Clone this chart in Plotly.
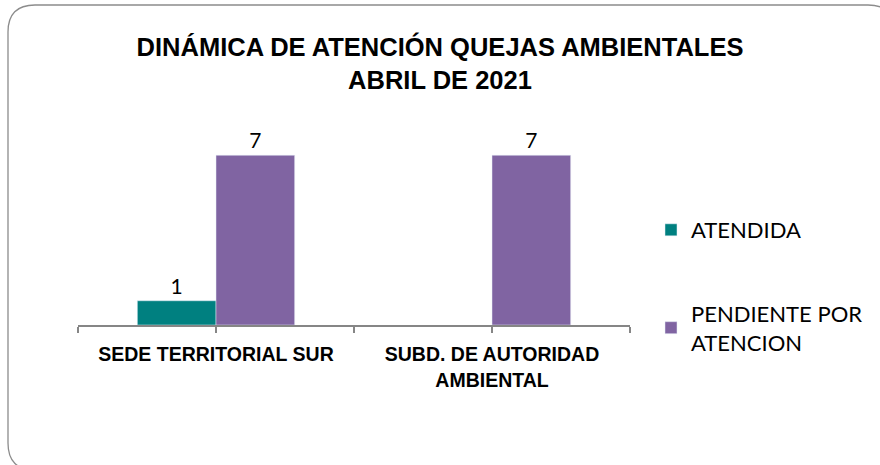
import plotly.graph_objects as go

categorias = ["SEDE TERRITORIAL SUR", "SUBD. DE AUTORIDAD<br>AMBIENTAL"]
atendida = [1, None]
pendiente = [7, 7]
series = ["ATENDIDA", "PENDIENTE POR<br>ATENCION"]

W, H = 880, 465
# plot area in pixels
L, R, T, B = 78, 630, 131, 325


def px(x):
    return (x - L) / (R - L)


def py(y):
    return (B - y) / (B - T)


x_pos = list(range(len(categorias)))
label_font = dict(family="Lato, Calibri, sans-serif", size=21, color="#000000")

fig = go.Figure()
fig.add_trace(go.Bar(name=series[0], x=x_pos, y=atendida, marker_color="#008080",
                     text=atendida, textposition="outside", cliponaxis=False,
                     textfont=label_font, legendgroup="a"))
fig.add_trace(go.Bar(name=series[1], x=x_pos, y=pendiente, marker_color="#8064A2",
                     text=pendiente, textposition="outside", cliponaxis=False,
                     textfont=label_font, legendgroup="b"))

# rounded border around the chart (runs off the right and bottom edges)
x0, y0, x1, y1, r = 8, 5, 895, 470, 27
path = (f"M {px(x0 + r)},{py(y0)} L {px(x1 - r)},{py(y0)} "
        f"Q {px(x1)},{py(y0)} {px(x1)},{py(y0 + r)} L {px(x1)},{py(y1 - r)} "
        f"Q {px(x1)},{py(y1)} {px(x1 - r)},{py(y1)} L {px(x0 + r)},{py(y1)} "
        f"Q {px(x0)},{py(y1)} {px(x0)},{py(y1 - r)} L {px(x0)},{py(y0 + r)} "
        f"Q {px(x0)},{py(y0)} {px(x0 + r)},{py(y0)} Z")

fig.update_layout(
    width=W, height=H,
    margin=dict(l=L, r=W - R, t=T, b=H - B),
    paper_bgcolor="white", plot_bgcolor="white",
    barmode="group", bargap=0.43, bargroupgap=0,
    font=dict(family="Lato, Calibri, sans-serif", size=17, color="#000000"),
    title=dict(text="DINÁMICA DE ATENCIÓN QUEJAS AMBIENTALES<br>ABRIL DE 2021",
               x=0.5, xanchor="center", y=1 - 56 / H, yanchor="top",
               font=dict(family="Liberation Sans, Arial, sans-serif",
                         size=25.5, color="#000000", weight="bold")),
    legend=dict(x=(651 - L) / (R - L), xanchor="left", y=py(209), yanchor="top",
                font=dict(family="Lato, Calibri, sans-serif", size=22),
                tracegroupgap=52, itemwidth=30, bgcolor="rgba(0,0,0,0)"),
    shapes=[dict(type="path", xref="paper", yref="paper", path=path,
                 line=dict(color="#8c8c8c", width=1.3), layer="below")],
    showlegend=True,
)
fig.update_xaxes(
    range=[-0.5, len(categorias) - 0.5],
    tickvals=[-0.5, 0, 0.5, 1, 1.5],
    ticktext=["", categorias[0], "", categorias[1], ""],
    ticks="outside", ticklen=6, tickwidth=1.5, tickcolor="#868686",
    ticklabelstandoff=5,
    showline=True, linecolor="#868686", linewidth=1.5,
    showgrid=False, zeroline=False,
    tickfont=dict(family="Liberation Sans, Arial, sans-serif",
                  size=19.5, color="#000000", weight="bold"),
)
fig.update_yaxes(range=[0, 8], visible=False)

fig.write_html("out.html", config={"displayModeBar": False},
               post_script="document.body.style.margin='0';")
